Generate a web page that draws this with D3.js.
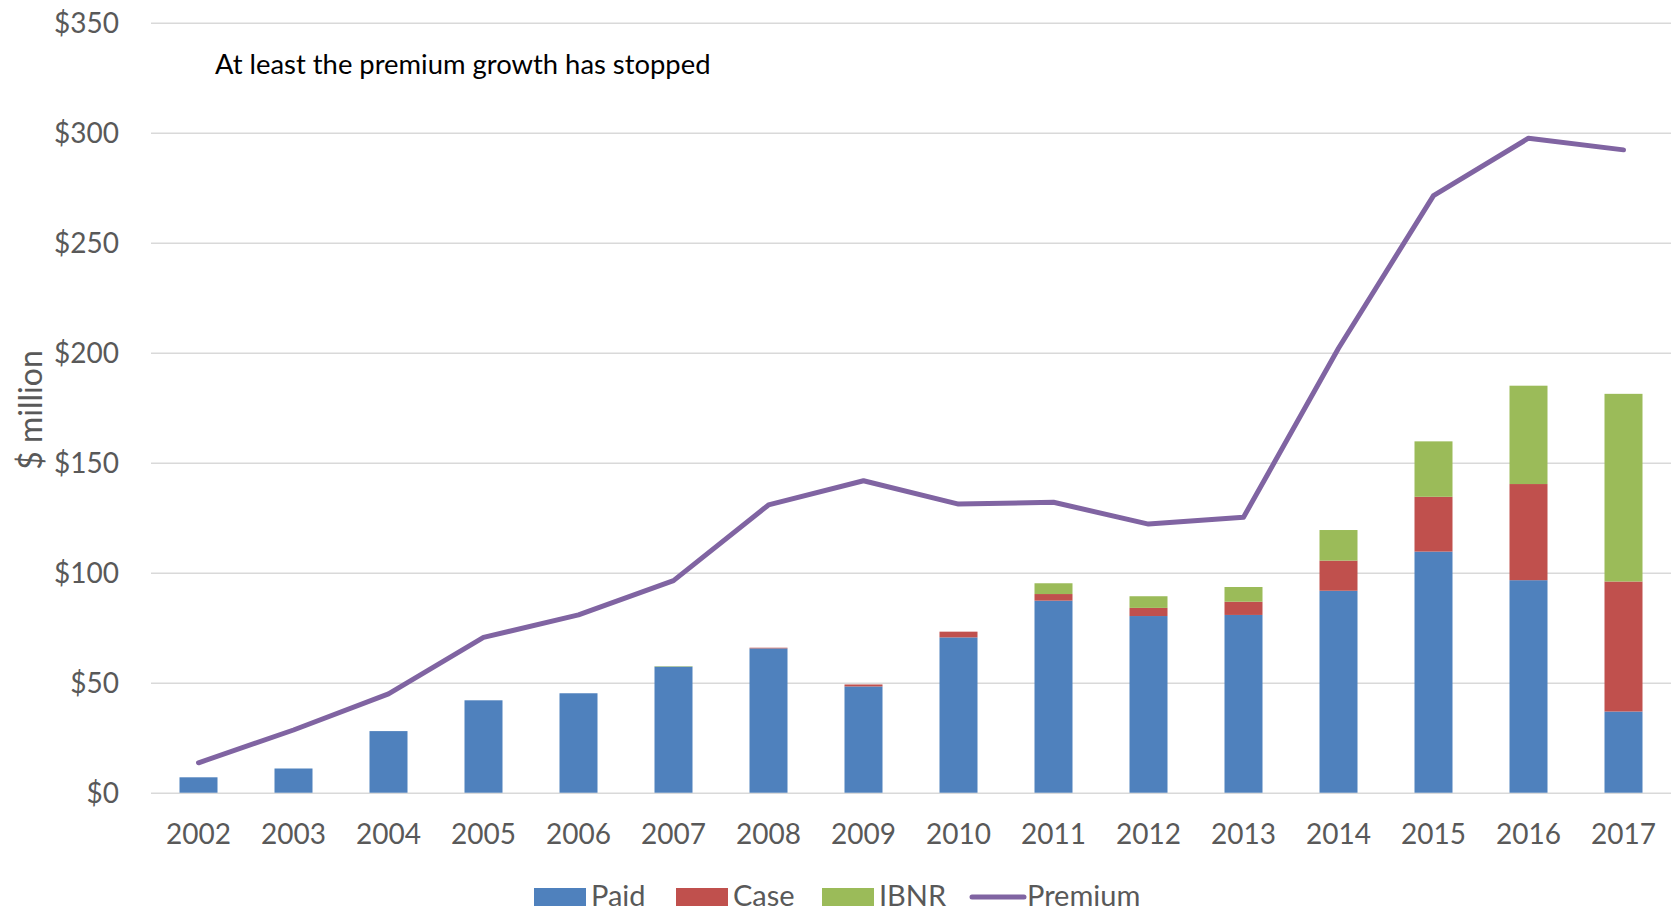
<!DOCTYPE html>
<html>
<head>
<meta charset="utf-8">
<script src="https://cdn.jsdelivr.net/npm/d3@7"></script>
<style>
  html, body { margin: 0; padding: 0; background: #fff; }
  svg text { font-family: Lato, "Open Sans", sans-serif; }
</style>
</head>
<body>
<svg id="chart" width="1675" height="914"></svg>
<script>
// Loss development by accident year ($ million)
const years   = ["2002","2003","2004","2005","2006","2007","2008","2009","2010","2011","2012","2013","2014","2015","2016","2017"];
const paid    = [7, 11, 28, 42, 45.2, 57.3, 65.6, 48.3, 70.6, 87.3, 80.3, 80.8, 91.8, 109.6, 96.6, 36.9];
const caseRes = [0, 0, 0, 0, 0, 0, 0.3, 0.9, 2.6, 3.0, 3.7, 6.0, 13.7, 24.9, 43.7, 59.1];
const ibnr    = [0, 0, 0, 0, 0, 0.2, 0, 0, 0, 4.9, 5.3, 6.7, 13.9, 25.2, 44.7, 85.3];
const premium = [13.6, 28.5, 44.9, 70.6, 80.8, 96.4, 130.8, 141.8, 131.2, 132.0, 122.1, 125.2, 202, 271.4, 297.5, 292.2];
const yTicks  = [0, 50, 100, 150, 200, 250, 300, 350];
const seriesNames = ["Paid", "Case", "IBNR"];
const lineName = "Premium";
const note = "At least the premium growth has stopped";
const yTitle = "$ million";

const colors = { Paid: "#4F81BD", Case: "#C0504D", IBNR: "#9BBB59", Premium: "#8064A2" };

const svg = d3.select("#chart");
const plot = { left: 151, right: 1671, top: 22.7, bottom: 792.7 };

const x = d3.scaleBand().domain(years).range([plot.left, plot.right])
  .paddingInner(0.6).paddingOuter(0.3);
const y = d3.scaleLinear().domain([0, 350]).range([plot.bottom, plot.top]);

// Gridlines and value labels
const yAxis = d3.axisLeft(y)
  .tickValues(yTicks)
  .tickFormat(d => "$" + d)
  .tickSizeInner(-(plot.right - plot.left))
  .tickSizeOuter(0)
  .tickPadding(32);

const gy = svg.append("g")
  .attr("transform", `translate(${plot.left},0)`)
  .call(yAxis);
gy.select(".domain").remove();
gy.selectAll(".tick line").attr("stroke", "#D9D9D9").attr("stroke-width", 1.6);
gy.selectAll(".tick text")
  .attr("fill", "#595959")
  .style("font-size", "28px")
  .attr("dy", "0.36em");

// Stacked claim bars
const rows = years.map((yr, i) => ({ year: yr, Paid: paid[i], Case: caseRes[i], IBNR: ibnr[i] }));
const stacked = d3.stack().keys(seriesNames)(rows);

svg.append("g").selectAll("g")
  .data(stacked)
  .join("g")
  .attr("fill", d => colors[d.key])
  .selectAll("rect")
  .data(d => d)
  .join("rect")
  .attr("x", d => x(d.data.year))
  .attr("width", x.bandwidth())
  .attr("y", d => y(d[1]))
  .attr("height", d => Math.max(0, y(d[0]) - y(d[1])));

// Premium line
const line = d3.line()
  .x((d, i) => x(years[i]) + x.bandwidth() / 2)
  .y(d => y(d));

svg.append("path")
  .datum(premium)
  .attr("fill", "none")
  .attr("stroke", colors.Premium)
  .attr("stroke-width", 5)
  .attr("stroke-linejoin", "round")
  .attr("stroke-linecap", "round")
  .attr("d", line);

// Category labels
svg.append("g").selectAll("text")
  .data(years)
  .join("text")
  .attr("x", d => x(d) + x.bandwidth() / 2)
  .attr("y", 844)
  .attr("text-anchor", "middle")
  .attr("fill", "#595959")
  .style("font-size", "28px")
  .text(d => d);

// Axis title
svg.append("text")
  .attr("transform", "translate(42,410) rotate(-90)")
  .attr("text-anchor", "middle")
  .attr("fill", "#595959")
  .style("font-size", "32px")
  .text(yTitle);

// Note
svg.append("text")
  .attr("x", 215)
  .attr("y", 74)
  .attr("fill", "#000")
  .style("font-size", "27.4px")
  .text(note);

// Legend
const legend = svg.append("g");
const legendItems = [
  { name: seriesNames[0], x: 534, type: "rect" },
  { name: seriesNames[1], x: 676, type: "rect" },
  { name: seriesNames[2], x: 822, type: "rect" },
  { name: lineName, x: 970, type: "line" }
];
legendItems.forEach(it => {
  if (it.type === "rect") {
    legend.append("rect")
      .attr("x", it.x).attr("y", 888)
      .attr("width", 52).attr("height", 18)
      .attr("fill", colors[it.name]);
  } else {
    legend.append("line")
      .attr("x1", it.x + 2).attr("x2", it.x + 54)
      .attr("y1", 897).attr("y2", 897)
      .attr("stroke", colors[it.name])
      .attr("stroke-width", 5)
      .attr("stroke-linecap", "round");
  }
  legend.append("text")
    .attr("x", it.x + 57)
    .attr("y", 906)
    .attr("fill", "#595959")
    .style("font-size", "29px")
    .text(it.name);
});
</script>
</body>
</html>
